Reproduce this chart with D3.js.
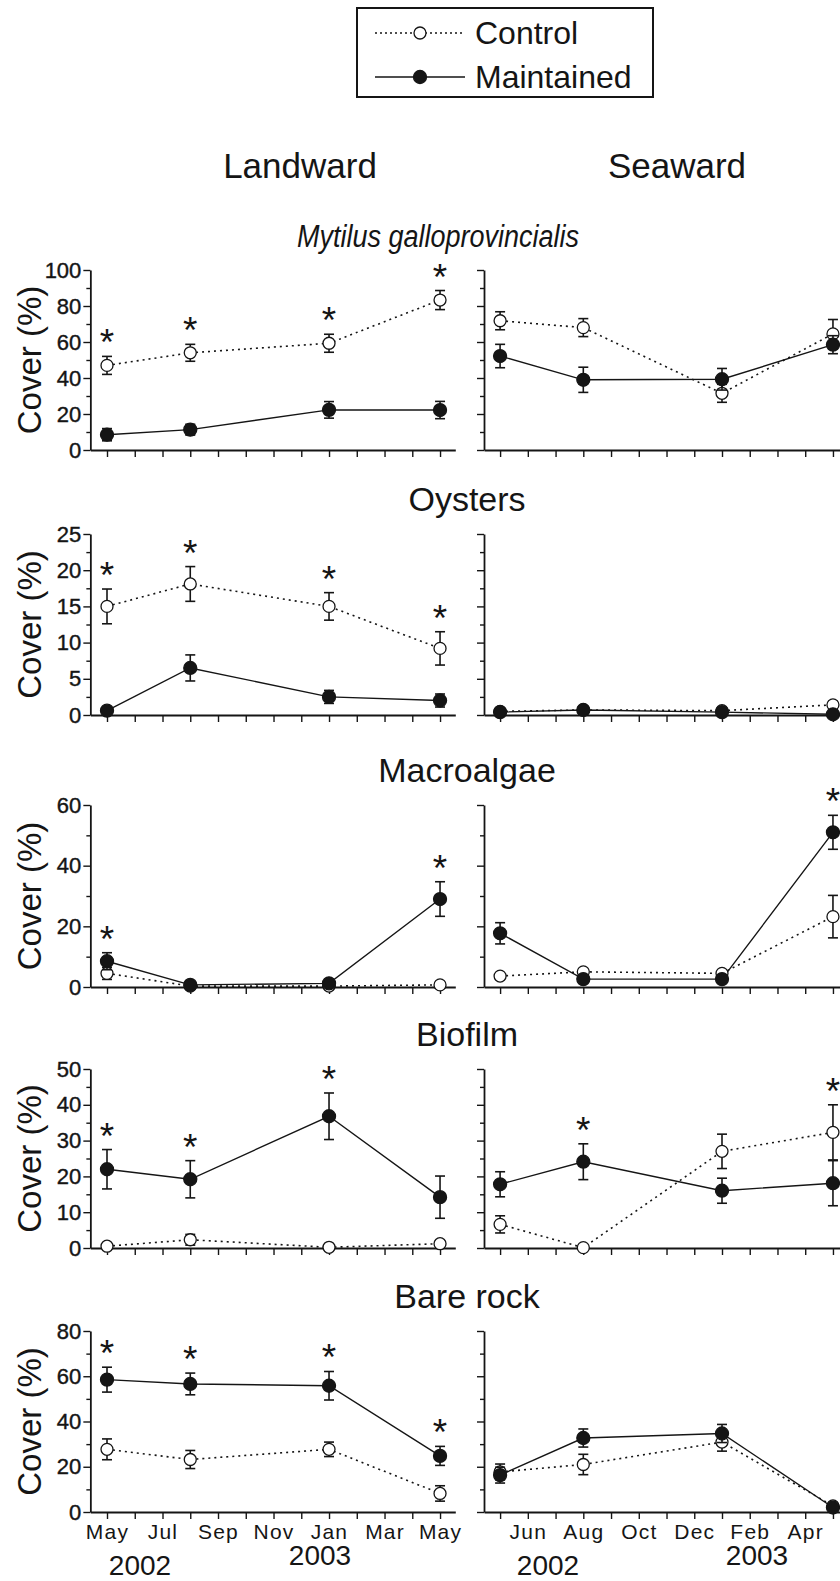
<!DOCTYPE html>
<html><head><meta charset="utf-8">
<script src="https://cdn.jsdelivr.net/npm/d3@7"></script>
<style>
body{margin:0;background:#fff;}
svg{display:block;font-family:Arial,"Liberation Sans",sans-serif;}
</style></head><body>
<svg id="chart" width="840" height="1581"></svg>
<script>
// ---------- DATA ----------
const monthLabels = ["May","Jun","Jul","Aug","Sep","Oct","Nov","Dec","Jan","Feb","Mar","Apr","May"];
const sampleMonths = [0, 3, 8, 12];          // May 2002, Aug 2002, Jan 2003, May 2003
const yearLabels = ["2002", "2003"];
const seriesNames = ["Control", "Maintained"];
const sideNames = ["Landward", "Seaward"];
const panelTitles = ["Mytilus galloprovincialis", "Oysters", "Macroalgae", "Biofilm", "Bare rock"];
const yMaxima = [100, 25, 60, 50, 80];
const yLabelSteps = [20, 5, 20, 10, 20];

// Mytilus galloprovincialis
const mytLandControl = [47, 54, 59.3, 83.3];
const mytLandControlSE = [5, 4.7, 5, 5.3];
const mytLandMaint = [8.5, 11.3, 22.3, 22.2];
const mytLandMaintSE = [3.4, 3, 4.6, 4.8];
const mytLandSig = [1, 1, 1, 1];
const mytSeaControl = [71.8, 68, 31.5, 64.5];
const mytSeaControlSE = [5, 5, 5, 8];
const mytSeaMaint = [52.2, 39, 39.3, 58.5];
const mytSeaMaintSE = [6.5, 7, 6, 5];
const mytSeaSig = [0, 0, 0, 0];

// Oysters
const oysLandControl = [15, 18.1, 15, 9.2];
const oysLandControlSE = [2.4, 2.4, 1.9, 2.3];
const oysLandMaint = [0.6, 6.5, 2.5, 2.0];
const oysLandMaintSE = [0.2, 1.8, 0.9, 0.9];
const oysLandSig = [1, 1, 1, 1];
const oysSeaControl = [0.5, 0.7, 0.6, 1.4];
const oysSeaControlSE = [0.3, 0.2, 0.2, 0.5];
const oysSeaMaint = [0.4, 0.7, 0.4, 0.1];
const oysSeaMaintSE = [0.2, 0.2, 0.2, 0.1];
const oysSeaSig = [0, 0, 0, 0];

// Macroalgae
const macLandControl = [4.5, 0.3, 0.3, 0.7];
const macLandControlSE = [2, 0.2, 0.2, 0.4];
const macLandMaint = [8.5, 0.7, 1.2, 29];
const macLandMaintSE = [2.8, 0.3, 0.5, 5.7];
const macLandSig = [1, 0, 0, 1];
const macSeaControl = [3.6, 5, 4.5, 23.2];
const macSeaControlSE = [0.8, 0.8, 0.8, 7];
const macSeaMaint = [17.7, 2.6, 2.6, 51];
const macSeaMaintSE = [3.5, 0.5, 0.5, 5.6];
const macSeaSig = [0, 0, 0, 1];

// Biofilm
const bioLandControl = [0.5, 2.3, 0.2, 1.2];
const bioLandControlSE = [0.3, 1.5, 0.2, 0.8];
const bioLandMaint = [22, 19.2, 36.8, 14.2];
const bioLandMaintSE = [5.5, 5.2, 6.5, 5.9];
const bioLandSig = [1, 1, 1, 0];
const bioSeaControl = [6.6, 0.1, 27, 32.3];
const bioSeaControlSE = [2.4, 0.3, 4.8, 7.7];
const bioSeaMaint = [17.8, 24.1, 16, 18.1];
const bioSeaMaintSE = [3.5, 5, 3.5, 6.3];
const bioSeaSig = [0, 1, 0, 1];

// Bare rock
const bareLandControl = [27.7, 23.2, 27.7, 8.2];
const bareLandControlSE = [4.6, 4, 3.2, 3.4];
const bareLandMaint = [58.5, 56.6, 55.8, 24.8];
const bareLandMaintSE = [5.5, 4.8, 6.3, 4.2];
const bareLandSig = [1, 1, 1, 1];
const bareSeaControl = [17.7, 21, 30.9, 2.7];
const bareSeaControlSE = [3.5, 4.5, 4, 0.8];
const bareSeaMaint = [16.3, 32.7, 34.7, 2.0];
const bareSeaMaintSE = [3.5, 4, 4, 0.8];
const bareSeaSig = [0, 0, 0, 0];

// ---------- assemble ----------
const panelData = [
  [[mytLandControl, mytLandControlSE, mytLandMaint, mytLandMaintSE, mytLandSig],
   [mytSeaControl, mytSeaControlSE, mytSeaMaint, mytSeaMaintSE, mytSeaSig]],
  [[oysLandControl, oysLandControlSE, oysLandMaint, oysLandMaintSE, oysLandSig],
   [oysSeaControl, oysSeaControlSE, oysSeaMaint, oysSeaMaintSE, oysSeaSig]],
  [[macLandControl, macLandControlSE, macLandMaint, macLandMaintSE, macLandSig],
   [macSeaControl, macSeaControlSE, macSeaMaint, macSeaMaintSE, macSeaSig]],
  [[bioLandControl, bioLandControlSE, bioLandMaint, bioLandMaintSE, bioLandSig],
   [bioSeaControl, bioSeaControlSE, bioSeaMaint, bioSeaMaintSE, bioSeaSig]],
  [[bareLandControl, bareLandControlSE, bareLandMaint, bareLandMaintSE, bareLandSig],
   [bareSeaControl, bareSeaControlSE, bareSeaMaint, bareSeaMaintSE, bareSeaSig]]
];

// ---------- layout ----------
const svg = d3.select("#chart");
const INK = "#151515";
const FONT = "Arial,'Liberation Sans',sans-serif";
const panelBottom = [450, 715, 987, 1248, 1512];
const panelTop = [270, 534, 805, 1069, 1331];
const sides = [
  {domain: [-0.6, 12.55], range: [90.35, 455.3], labelMonths: m => m % 2 === 0},
  {domain: [-0.58, 12.6], range: [484, 849.6], labelMonths: m => m % 2 === 1}
];

// Legend
const lg = svg.append("g");
lg.append("rect").attr("x", 357).attr("y", 8).attr("width", 296).attr("height", 89)
  .attr("fill", "none").attr("stroke", INK).attr("stroke-width", 2);
[33, 77].forEach((ly, i) => {
  lg.append("line").attr("x1", 375).attr("x2", 465).attr("y1", ly).attr("y2", ly)
    .attr("stroke", INK).attr("stroke-width", i ? 1.5 : 1.3)
    .attr("stroke-dasharray", i ? null : "2,3");
  lg.append("circle").attr("cx", 420).attr("cy", ly).attr("r", i ? 6.5 : 6)
    .attr("fill", i ? INK : "#fff").attr("stroke", INK).attr("stroke-width", 1.3);
  lg.append("text").attr("x", 475).attr("y", ly + 11).attr("font-size", 32)
    .attr("fill", INK).text(seriesNames[i]);
});

// Column headers
[300, 677].forEach((cx, i) => {
  svg.append("text").attr("x", cx).attr("y", 178).attr("text-anchor", "middle")
    .attr("font-size", 35).attr("fill", INK).text(sideNames[i]);
});

panelData.forEach((pd, pi) => {
  const yMax = yMaxima[pi], step = yLabelSteps[pi];
  // title
  const tt = svg.append("text").attr("y", panelTop[pi] - 23)
    .attr("text-anchor", "middle").attr("font-size", pi === 0 ? 31 : 34)
    .attr("font-style", pi === 0 ? "italic" : "normal")
    .attr("fill", INK).text(panelTitles[pi]);
  if (pi === 0) tt.attr("x", 438).attr("textLength", 282).attr("lengthAdjust", "spacingAndGlyphs");
  else tt.attr("x", 467);
  // y label
  svg.append("text").attr("transform", `translate(41,${(panelTop[pi] + panelBottom[pi]) / 2}) rotate(-90)`)
    .attr("text-anchor", "middle").attr("font-size", 33).attr("fill", INK).text("Cover (%)");

  pd.forEach((sd, si) => {
    const [ctl, ctlSE, mnt, mntSE, sig] = sd;
    const side = sides[si];
    const x = d3.scaleLinear().domain(side.domain).range(side.range);
    const y = d3.scaleLinear().domain([0, yMax]).range([panelBottom[pi], panelTop[pi]]);
    const g = svg.append("g");
    const ax0 = x(side.domain[0]);

    // y axis minor
    const minors = d3.range(step / 2, yMax, step);
    g.append("g").attr("transform", `translate(${ax0},0)`)
      .call(d3.axisLeft(y).tickValues(minors).tickSize(4).tickSizeOuter(0).tickFormat(""))
      .call(a => a.select(".domain").remove());
    // y axis major
    const majors = d3.range(0, yMax + 1e-6, step);
    const ya = g.append("g").attr("transform", `translate(${ax0},0)`)
      .call(d3.axisLeft(y).tickValues(majors).tickSize(7).tickSizeOuter(0).tickPadding(2)
        .tickFormat(si === 0 ? d3.format("d") : ""));
    ya.selectAll("text").attr("font-size", 22).attr("fill", INK).attr("font-family", FONT)
      .attr("stroke", INK).attr("stroke-width", 0.4);

    // x axis
    const xa = g.append("g").attr("transform", `translate(0,${panelBottom[pi]})`)
      .call(d3.axisBottom(x).tickValues(d3.range(0, 13)).tickSize(7).tickSizeOuter(0).tickPadding(5)
        .tickFormat(m => (pi === 4 && side.labelMonths(m)) ? monthLabels[m] : ""));
    xa.selectAll("text").attr("font-size", 21).attr("letter-spacing", "1.2px").attr("fill", INK)
      .attr("font-family", FONT);
    [xa, ya].forEach(a => {
      a.selectAll("line").attr("stroke", INK).attr("stroke-width", 1.4);
      a.select(".domain").attr("stroke", INK).attr("stroke-width", 1.8);
    });
    g.selectAll("line").attr("stroke", INK).attr("stroke-width", 1.4);

    const pts = (vals, se) => sampleMonths.map((m, k) => ({m, v: vals[k], se: se[k]}));
    const series = [
      {pts: pts(ctl, ctlSE), filled: false},
      {pts: pts(mnt, mntSE), filled: true}
    ];
    const line = d3.line().x(d => x(d.m)).y(d => y(d.v));
    series.forEach(s => {
      g.append("path").attr("d", line(s.pts)).attr("fill", "none").attr("stroke", INK)
        .attr("stroke-width", s.filled ? 1.4 : 1.6)
        .attr("stroke-dasharray", s.filled ? null : "2,4");
    });
    series.forEach(s => {
      s.pts.forEach(d => {
        const x0 = x(d.m), yt = y(d.v + d.se), yb = y(Math.max(0, d.v - d.se));
        g.append("line").attr("x1", x0).attr("x2", x0).attr("y1", yt).attr("y2", yb)
          .attr("stroke", INK).attr("stroke-width", 1.6);
        [yt, yb].forEach(yy => g.append("line").attr("x1", x0 - 5).attr("x2", x0 + 5)
          .attr("y1", yy).attr("y2", yy).attr("stroke", INK).attr("stroke-width", 1.6));
      });
      g.selectAll(null).data(s.pts).enter().append("circle")
        .attr("cx", d => x(d.m)).attr("cy", d => y(d.v))
        .attr("r", s.filled ? 6.5 : 6)
        .attr("fill", s.filled ? INK : "#fff").attr("stroke", INK).attr("stroke-width", 1.3);
    });
    // significance asterisks
    sampleMonths.forEach((m, k) => {
      if (!sig[k]) return;
      const top = Math.max(ctl[k] + ctlSE[k], mnt[k] + mntSE[k]);
      g.append("text").attr("x", x(m)).attr("y", y(top) - 22 + 21)
        .attr("text-anchor", "middle").attr("font-size", 37).attr("fill", INK).text("*");
    });

    // years under bottom panels
    if (pi === 4) {
      const yx = si === 0 ? [140, 320] : [548, 757];
      const yy = [1575, 1565];
      yearLabels.forEach((t, k) => {
        svg.append("text").attr("x", yx[k]).attr("y", yy[k]).attr("text-anchor", "middle")
          .attr("font-size", 28).attr("fill", INK).text(t);
      });
    }
  });
});
</script>
</body></html>
